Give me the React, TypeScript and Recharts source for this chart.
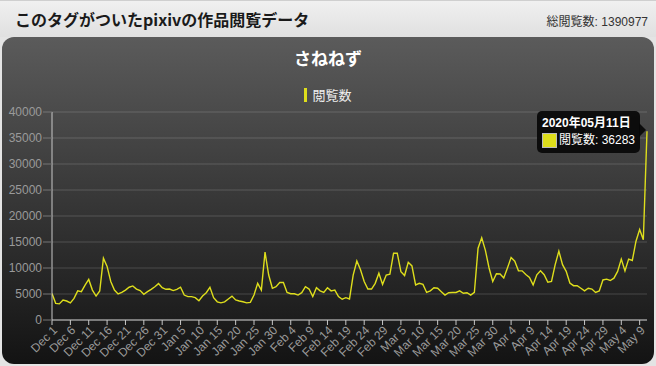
import { LineChart, Line, XAxis, YAxis, CartesianGrid, Tooltip } from "recharts";

// daily view counts, Dec 1 2019 .. May 11 2020
const MONTHS = ["Dec", "Jan", "Feb", "Mar", "Apr", "May"];
const MONTH_NUMS = [12, 1, 2, 3, 4, 5];
const YEARS = [2019, 2020, 2020, 2020, 2020, 2020];

const decViews = [
  5100, 3200, 3100, 3850, 3650, 3300, 4150, 5600, 5450, 6700, 7800, 5750, 4600, 5600, 11900, 10300,
  7400, 5750, 5000, 5300, 5750, 6300, 6550, 5950, 5650, 4950, 5450, 5900, 6400, 7000, 6200,
];
const janViews = [
  5900, 5950, 5650, 5900, 6300, 4800, 4500, 4500, 4300, 3700, 4600, 5250, 6300, 4300, 3500, 3300,
  3500, 4050, 4600, 3850, 3650, 3500, 3300, 3400, 4800, 7050, 5750, 13050, 8650, 6100, 6400,
];
const febViews = [
  7200, 7200, 5300, 5050, 5050, 4800, 5250, 6400, 5950, 4500, 6200, 5600, 5300, 6200, 5600, 5750,
  4500, 4000, 4300, 4050, 8650, 11350, 9650, 7400, 5950, 5950, 7050, 9000, 6850,
];
const marViews = [
  8650, 8800, 12850, 12850, 9300, 8550, 11100, 10400, 6750, 7050, 6850, 5300, 5600, 6200, 6100, 5450,
  4800, 5250, 5300, 5300, 5600, 5150, 5250, 4800, 5300, 13800, 15800, 13400, 10000, 7400, 8900,
];
const aprViews = [
  8850, 8100, 10000, 12000, 11300, 9450, 9450, 8750, 8200, 6750, 8700, 9450, 8700, 7250, 7400, 10650,
  13250, 10650, 9350, 7100, 6600, 6600, 6100, 5600, 6100, 5950, 5300, 5600, 7700, 7850,
];
const mayViews = [7600, 8050, 9350, 11700, 9450, 11700, 11450, 15150, 17400, 15450, 36283];

const monthViews = [decViews, janViews, febViews, marViews, aprViews, mayViews];

const yTicks = [0, 5000, 10000, 15000, 20000, 25000, 30000, 35000, 40000];

const pad = (n: number) => String(n).padStart(2, "0");

const data = MONTHS.flatMap((m, mi) =>
  monthViews[mi].map((v, d) => ({
    label: `${m} ${d + 1}`,
    date: `${YEARS[mi]}年${pad(MONTH_NUMS[mi])}月${pad(d + 1)}日`,
    views: v,
  }))
);

const FONT = '"Liberation Sans", Arial, "Noto Sans CJK JP", sans-serif';
const LINE_COLOR = "#dede1c";

const XTick = (props: any) => {
  const { x, y, payload } = props;
  return (
    <g transform={`translate(${x + 3},${y + 3}) rotate(-45)`}>
      <text textAnchor="end" dy="0.35em" fill="#9a9a9a" fontSize={12} fontFamily={FONT}>
        {payload.value}
      </text>
    </g>
  );
};

const TipBox = (props: any) => {
  const { active, payload } = props;
  if (!active || !payload || !payload.length) return null;
  const p = payload[0].payload;
  return (
    <div
      style={{
        position: "relative",
        background: "rgba(8,8,8,0.92)",
        borderRadius: 5,
        padding: "4px 5px",
        color: "#fff",
        fontSize: 12,
        fontFamily: FONT,
        whiteSpace: "nowrap",
        lineHeight: "17px",
      }}
    >
      <div style={{ fontWeight: "bold" }}>{p.date}</div>
      <div style={{ display: "flex", alignItems: "center" }}>
        <span
          style={{
            display: "inline-block",
            width: 13,
            height: 13,
            background: LINE_COLOR,
            border: "1px solid #bbb",
            marginRight: 2,
          }}
        />
        閲覧数: {p.views}
      </div>
      <div
        style={{
          position: "absolute",
          right: -6,
          top: 12,
          width: 0,
          height: 0,
          borderTop: "7px solid transparent",
          borderBottom: "7px solid transparent",
          borderLeft: "7px solid rgba(8,8,8,0.92)",
        }}
      />
    </div>
  );
};

export default function App() {
  return (
    <div
      style={{
        position: "absolute",
        left: 0,
        top: 0,
        width: 656,
        height: 366,
        background: "#e4e4e4",
        fontFamily: FONT,
        overflow: "hidden",
      }}
    >
      <div
        style={{
          position: "absolute",
          left: 0,
          top: 0,
          width: 656,
          height: 37,
          background: "linear-gradient(#f0f0f0, #e0e0e0)",
          borderTop: "1px solid #cfcfcf",
          boxSizing: "border-box",
        }}
      >
        <div
          style={{
            position: "absolute",
            left: 15,
            top: 6,
            fontSize: 16,
            fontWeight: "bold",
            color: "#1a1a1a",
            fontFamily: '"Noto Sans CJK JP", sans-serif',
          }}
        >
          このタグがついたpixivの作品閲覧データ
        </div>
        <div
          style={{
            position: "absolute",
            right: 8,
            top: 11,
            fontSize: 12,
            color: "#333",
          }}
        >
          総閲覧数: 1390977
        </div>
      </div>
      <div
        style={{
          position: "absolute",
          left: 2,
          top: 37,
          width: 652,
          height: 327,
          borderRadius: 12,
          background: "linear-gradient(#5b5b5b, #131313)",
          overflow: "hidden",
        }}
      >
        <div
          style={{
            position: "absolute",
            left: 0,
            width: 652,
            top: 8,
            textAlign: "center",
            color: "#fff",
            fontSize: 17,
            fontWeight: "bold",
            fontFamily: '"Noto Sans CJK JP", sans-serif',
          }}
        >
          さねねず
        </div>
        <div
          style={{
            position: "absolute",
            left: 0,
            width: 652,
            top: 48,
            display: "flex",
            justifyContent: "center",
            alignItems: "center",
            color: "#eee",
            fontSize: 13,
            fontFamily: '"Noto Sans CJK JP", sans-serif',
          }}
        >
          <span style={{ display: "inline-block", width: 3, height: 14, background: LINE_COLOR, marginRight: 5 }} />
          閲覧数
        </div>
        <div style={{ position: "absolute", left: 0, top: 0 }}>
          <LineChart
            width={652}
            height={327}
            data={data}
            margin={{ top: 75, right: 7, left: 0, bottom: 0 }}
          >
            <CartesianGrid vertical={false} stroke="rgba(255,255,255,0.17)" />
            <XAxis
              dataKey="label"
              interval={4}
              height={44}
              tickSize={5}
              tickMargin={0}
              stroke="#c8c8c8"
              tick={<XTick />}
            />
            <YAxis
              domain={[0, 40000]}
              ticks={yTicks}
              width={50}
              tickSize={9}
              tickMargin={1}
              stroke="#c8c8c8"
              tickLine={{ stroke: "#777" }}
              tick={{ fill: "#9a9a9a", fontSize: 12, fontFamily: FONT }}
            />
            <Tooltip
              content={<TipBox />}
              active
              defaultIndex={162}
              cursor={false}
              position={{ x: 535, y: 74 }}
              wrapperStyle={{ outline: "none" }}
            />
            <Line
              type="linear"
              dataKey="views"
              stroke={LINE_COLOR}
              strokeWidth={1.4}
              dot={false}
              activeDot={false}
              isAnimationActive={false}
            />
          </LineChart>
        </div>
      </div>
    </div>
  );
}
